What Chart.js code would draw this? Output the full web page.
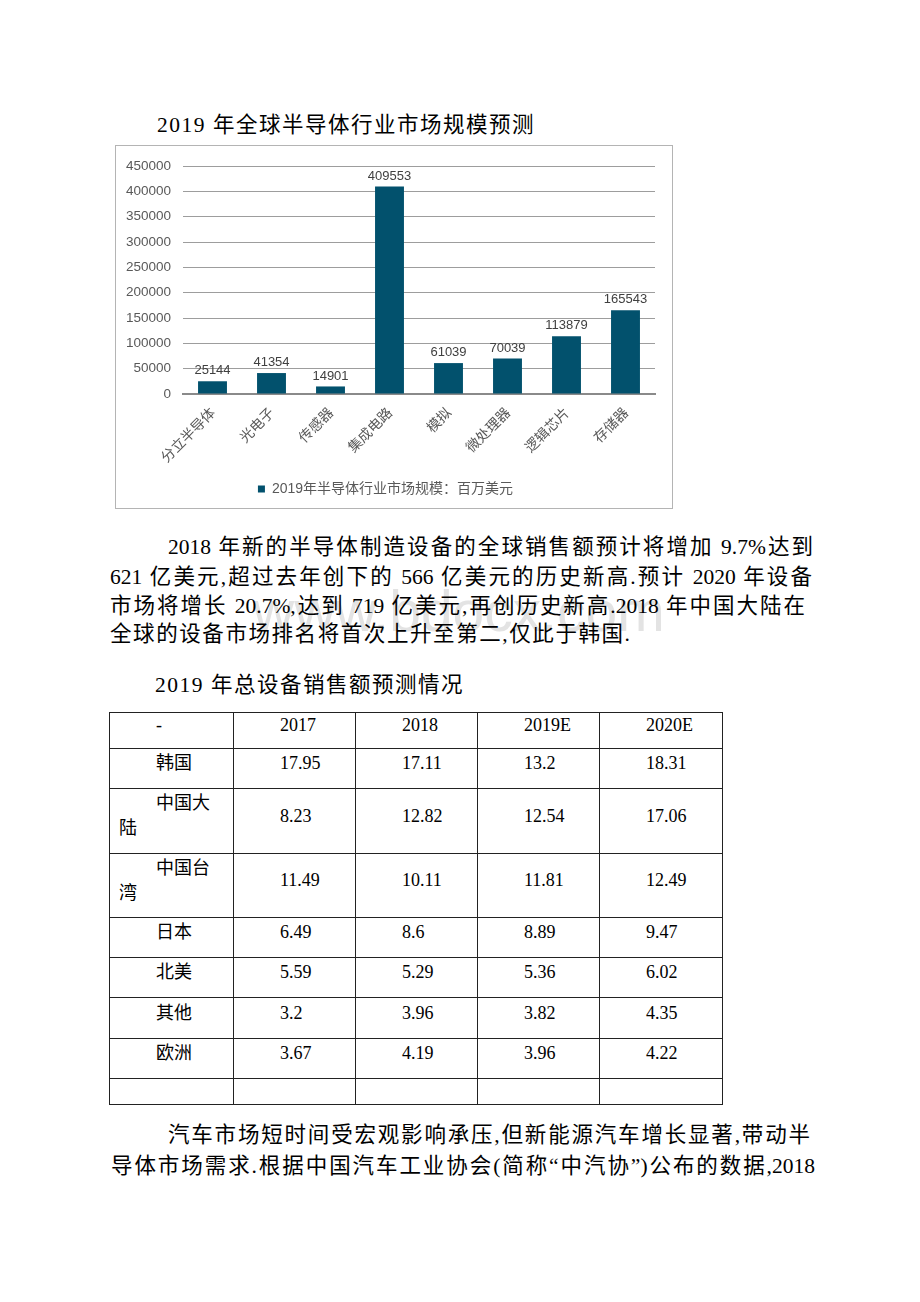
<!DOCTYPE html>
<html>
<head>
<meta charset="utf-8">
<script src="https://cdn.jsdelivr.net/npm/chart.js@4.4.1/dist/chart.umd.min.js"></script>
<style>
  html, body { margin: 0; padding: 0; background: #fff; }
  body { width: 920px; height: 1302px; position: relative; overflow: hidden;
         font-family: "Liberation Serif", "Noto Sans CJK SC", serif; color: #000; }
  .line { position: absolute; white-space: nowrap; font-size: 21.5px; height: 30px; line-height: 30px; }
  .title { letter-spacing: 1.5px; }
  .just { text-align: justify; text-align-last: justify; white-space: normal; overflow: hidden; }
  .watermark { position: absolute; left: 253px; top: 578px; font-family: "Liberation Sans", Arial, sans-serif;
               font-size: 57px; color: #e3e3e3; white-space: nowrap; }
  #chartBox { position: absolute; left: 115px; top: 145px; width: 556px; height: 362px;
              border: 1px solid #b4b4b4; }
  #chartBox canvas { display: block; }
  #tbl { position: absolute; left: 109px; top: 712px; border-collapse: collapse; table-layout: fixed;
         font-size: 18px; line-height: 25px; }
  #tbl td { border: 1px solid #222; padding: 0 9px 10px 9px; vertical-align: middle; text-indent: 37px;
            overflow: hidden; box-sizing: border-box; }
</style>
</head>
<body>
<div class="line title" id="title1" style="left:157px; top:110px;"></div>
<div id="chartBox"><canvas id="chart" width="556" height="362"></canvas></div>
<div class="watermark">www.bdocx.com</div>
<div id="para1"></div>
<div class="line title" id="title2" style="left:155px; top:670px;"></div>
<table id="tbl"></table>
<div id="para2"></div>

<script>
// chart data
const categories = ['分立半导体', '光电子', '传感器', '集成电路', '模拟', '微处理器', '逻辑芯片', '存储器'];
const marketSize = [25144, 41354, 14901, 409553, 61039, 70039, 113879, 165543];
const seriesLabel = '2019年半导体行业市场规模：百万美元';
const yMax = 450000;
const yStep = 50000;

// table data
const tableHead = ['-', '2017', '2018', '2019E', '2020E'];
const regions = ['韩国', '中国大陆', '中国台湾', '日本', '北美', '其他', '欧洲', ''];
const sales2017 = ['17.95', '8.23', '11.49', '6.49', '5.59', '3.2', '3.67', ''];
const sales2018 = ['17.11', '12.82', '10.11', '8.6', '5.29', '3.96', '4.19', ''];
const sales2019E = ['13.2', '12.54', '11.81', '8.89', '5.36', '3.82', '3.96', ''];
const sales2020E = ['18.31', '17.06', '12.49', '9.47', '6.02', '4.35', '4.22', ''];

// text
const title1 = '2019 年全球半导体行业市场规模预测';
const title2 = '2019 年总设备销售额预测情况';
const para1 = [
    '2018 年新的半导体制造设备的全球销售额预计将增加 9.7%达到',
    '621 亿美元,超过去年创下的 566 亿美元的历史新高.预计 2020 年设备',
    '市场将增长 20.7%,达到 719 亿美元,再创历史新高.2018 年中国大陆在',
    '全球的设备市场排名将首次上升至第二,仅此于韩国.'
];
const para2 = [
    '汽车市场短时间受宏观影响承压,但新能源汽车增长显著,带动半',
    '导体市场需求.根据中国汽车工业协会(简称“中汽协”)公布的数据,2018'
];

document.getElementById('title1').textContent = title1;
document.getElementById('title2').textContent = title2;

// lay out the justified text lines: [left, right, centerY]
function placeLines(containerId, lines, boxes) {
    const box = document.getElementById(containerId);
    lines.forEach((txt, i) => {
        const [l, r, cy] = boxes[i];
        const d = document.createElement('div');
        d.className = 'line just';
        d.style.left = l + 'px';
        d.style.width = (r - l) + 'px';
        d.style.top = (cy - 15) + 'px';
        d.textContent = txt;
        box.appendChild(d);
    });
}
placeLines('para1', para1, [[168, 813, 547], [110, 812, 577], [110, 805, 606], [110, 630, 634]]);
placeLines('para2', para2, [[168, 810, 1135], [111, 815, 1166]]);

// table
const colWidths = [124, 122, 122, 122, 123];
const rowHeights = [36, 40, 65, 64, 40, 40, 41, 40, 26];
const tbl = document.getElementById('tbl');
const cg = document.createElement('colgroup');
colWidths.forEach(w => {
    const c = document.createElement('col');
    c.style.width = w + 'px';
    cg.appendChild(c);
});
tbl.appendChild(cg);
const rows = [tableHead].concat(regions.map((r, i) => [r, sales2017[i], sales2018[i], sales2019E[i], sales2020E[i]]));
rows.forEach((cells, i) => {
    const tr = document.createElement('tr');
    tr.style.height = rowHeights[i] + 'px';
    cells.forEach(txt => {
        const td = document.createElement('td');
        td.textContent = txt;
        tr.appendChild(td);
    });
    tbl.appendChild(tr);
});

// value labels above bars
const barValueLabels = {
    id: 'barValueLabels',
    afterDatasetsDraw(chart) {
        const ctx = chart.ctx;
        ctx.save();
        ctx.font = '13px "Liberation Sans", Arial, sans-serif';
        ctx.fillStyle = '#404040';
        ctx.textAlign = 'center';
        ctx.textBaseline = 'bottom';
        chart.getDatasetMeta(0).data.forEach((bar, i) => {
            ctx.fillText(String(marketSize[i]), bar.x, bar.y - 4);
        });
        ctx.restore();
    }
};

const ctx = document.getElementById('chart').getContext('2d');
new Chart(ctx, {
    type: 'bar',
    data: {
        labels: categories,
        datasets: [{
            label: seriesLabel,
            data: marketSize,
            backgroundColor: '#02516d',
            borderWidth: 0,
            categoryPercentage: 1,
            barPercentage: 0.49
        }]
    },
    options: {
        responsive: false,
        animation: false,
        layout: { padding: { top: 16, right: 17, bottom: 2, left: 0 } },
        plugins: {
            legend: {
                display: true,
                position: 'bottom',
                labels: {
                    boxWidth: 7,
                    boxHeight: 7,
                    padding: 10,
                    color: '#595959',
                    font: { size: 14, family: '"Liberation Sans", "Noto Sans CJK SC", sans-serif' }
                }
            },
            tooltip: { enabled: false }
        },
        scales: {
            y: {
                min: 0,
                max: yMax,
                ticks: {
                    stepSize: yStep,
                    padding: 12,
                    color: '#595959',
                    font: { size: 13.5, family: '"Liberation Sans", Arial, sans-serif' },
                    callback: function(value) { return String(value); }
                },
                grid: { color: '#9d9d9d', lineWidth: 1, drawTicks: false },
                border: { display: false },
                afterFit: function(scale) { scale.width = 67; }
            },
            x: {
                ticks: {
                    minRotation: 45,
                    maxRotation: 45,
                    padding: 10,
                    color: '#595959',
                    font: { size: 14, family: '"Noto Sans CJK SC", sans-serif' }
                },
                grid: { display: false, drawTicks: false },
                border: { display: true, color: '#8a8a8a', width: 2 },
                afterFit: function(scale) { scale.height = 78; }
            }
        }
    },
    plugins: [barValueLabels]
});
</script>
</body>
</html>
